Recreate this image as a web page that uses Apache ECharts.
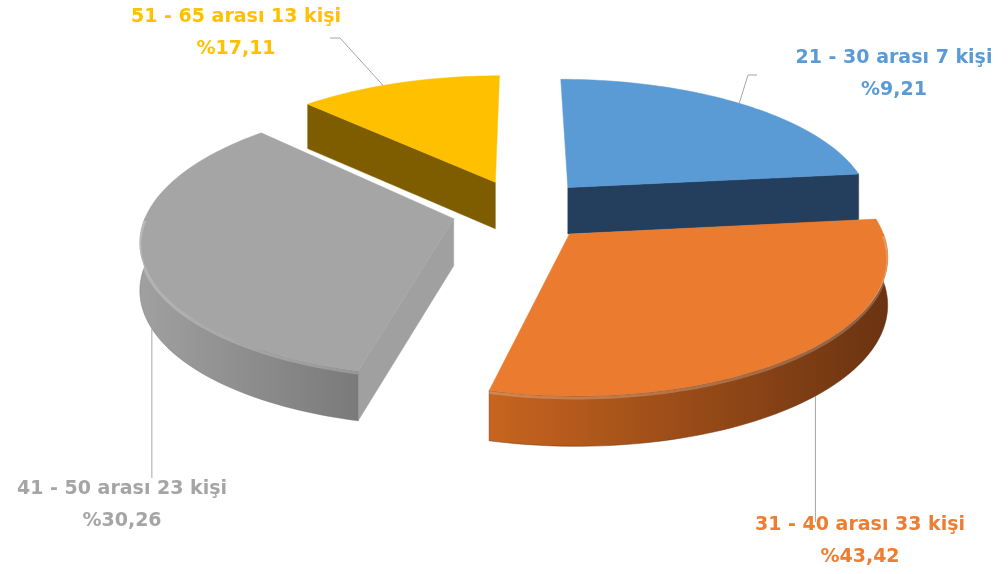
<!DOCTYPE html>
<html>
<head>
<meta charset="utf-8">
<script src="https://cdn.jsdelivr.net/npm/echarts@6/dist/echarts.min.js"></script>
</head>
<body style="margin:0;background:#ffffff;">
<div id="main" style="width:1008px;height:574px;"></div>
<script>
// data
var ranges = ['21 - 30', '31 - 40', '41 - 50', '51 - 65'];
var counts = [7, 33, 23, 13];
// slice sizes as they are drawn in the picture (they do not follow the printed shares)
var drawnShare = [23.3, 30.6, 33.3, 12.8];

var topColors = ['#5b9bd5', '#ea7b2f', '#a5a5a5', '#ffc000'];
var sideColors = [['#243f5e', '#1e3854'], ['#c8641f', '#6a3311'], ['#a0a0a0', '#7a7a7a'], ['#7d5d00', '#695000']];
var labelColors = ['#5b9bd5', '#ed7d31', '#a5a5a5', '#ffc000'];

var total = counts.reduce(function (a, b) { return a + b; }, 0);
var shareSum = drawnShare.reduce(function (a, b) { return a + b; }, 0);

// start angle / end angle of each slice, clockwise from 12 o'clock
var angles = [];
var a0 = 270;
drawnShare.forEach(function (s) {
  var a1 = a0 + s / shareSum * 360;
  angles.push([a0, a1]);
  a0 = a1;
});

// 3d look
var cx = 522, cy = 210, RX = 306, RY = 135, RY2 = 20, PERSP = 0.15, DEPTH = 47, EXPLODE = 0.23;
var RAD = Math.PI / 180;

// label layout
var labelPos = [[894, 74], [860, 541], [122, 505], [236, 33]];
var leaderAt = [[312, 0], [46, 1], [155, 1], [243, 0]];   // angle on the rim, 0 = top edge, 1 = bottom edge
var leaderRest = [[[748, 75], [757, 75]], [[null, 522]], [[null, 478]], [[340, 38], [330, 38]]];

function proj(u, v, bottom) {
  var x = cx + RX * u * (1 + PERSP * v);
  var y = cy + RY * v + RY2 * v * v + (bottom ? DEPTH * (1 + 0.06 * v) : 0);
  return [x, y];
}

function pctText(c) {
  return (c / total * 100).toFixed(2).replace('.', ',');
}

function renderItem(params, api) {
  var i = params.dataIndex;
  var s = angles[i][0], e = angles[i][1];
  var mid = (s + e) / 2 * RAD;
  var ox = EXPLODE * Math.cos(mid), oy = EXPLODE * Math.sin(mid);
  var base = Math.round((Math.sin(mid) + 1) * 10) * 10;

  function pt(deg, r, bottom) {
    var t = deg * RAD;
    return proj(ox + r * Math.cos(t), oy + r * Math.sin(t), bottom);
  }
  function arc(d0, d1, bottom) {
    var n = Math.max(2, Math.ceil(Math.abs(d1 - d0) / 1.5));
    var pts = [];
    for (var k = 0; k <= n; k++) pts.push(pt(d0 + (d1 - d0) * k / n, 1, bottom));
    return pts;
  }

  var children = [];

  // straight side walls that face the viewer
  function wall(deg) {
    return {
      type: 'polygon', z2: base + 1,
      shape: { points: [pt(deg, 0, 0), pt(deg, 1, 0), pt(deg, 1, 1), pt(deg, 0, 1)] },
      style: { fill: sideColors[i][0], stroke: sideColors[i][0], lineWidth: 0.5 }
    };
  }
  if (Math.cos(s * RAD) < -0.01) children.push(wall(s));
  if (Math.cos(e * RAD) > 0.01) children.push(wall(e));

  // curved outer wall on the front half
  for (var k = Math.floor(s / 360) - 1; k <= Math.floor(e / 360); k++) {
    var w0 = Math.max(s, 360 * k), w1 = Math.min(e, 360 * k + 180);
    if (w1 > w0) {
      var pts = arc(w0, w1, 0).concat(arc(w1, w0, 1));
      children.push({
        type: 'polygon', z2: base + 2,
        shape: { points: pts },
        style: {
          fill: new echarts.graphic.LinearGradient(0, 0, 1, 0, [
            { offset: 0, color: sideColors[i][0] },
            { offset: 1, color: sideColors[i][1] }
          ]),
          stroke: sideColors[i][1], lineWidth: 0.5
        }
      });
      children.push({
        type: 'polyline', z2: base + 4,
        shape: { points: arc(w0, w1, 0).map(function (p) { return [p[0], p[1] + 2]; }) },
        style: { stroke: 'rgba(255,255,255,0.22)', lineWidth: 3, fill: null }
      });
    }
  }

  // top face
  children.push({
    type: 'polygon', z2: base + 3,
    shape: { points: [pt(s, 0, 0)].concat(arc(s, e, 0)) },
    style: { fill: topColors[i], stroke: topColors[i], lineWidth: 0.5 }
  });

  // leader line
  var la = leaderAt[i];
  var start = pt(la[0], 1, la[1]);
  var line = [start];
  leaderRest[i].forEach(function (p) {
    line.push([p[0] === null ? start[0] : p[0], p[1]]);
  });
  children.push({
    type: 'polyline', z2: 499,
    shape: { points: line },
    style: { stroke: '#a6a6a6', lineWidth: 1, fill: null }
  });

  // label
  children.push({
    type: 'text', z2: 500,
    style: {
      text: ranges[i] + ' arası ' + api.value(0) + ' kişi\n%' + pctText(api.value(0)),
      x: labelPos[i][0], y: labelPos[i][1],
      align: 'center', verticalAlign: 'middle',
      fill: labelColors[i],
      font: 'bold 19px "DejaVu Sans"',
      lineHeight: 32
    }
  });

  return { type: 'group', children: children };
}

var myChart = echarts.init(document.getElementById('main'));
myChart.setOption({
  backgroundColor: '#ffffff',
  animation: false,
  series: [{
    type: 'custom',
    coordinateSystem: 'none',
    renderItem: renderItem,
    data: counts.map(function (c, i) { return [c, i]; })
  }]
});
</script>
</body>
</html>
